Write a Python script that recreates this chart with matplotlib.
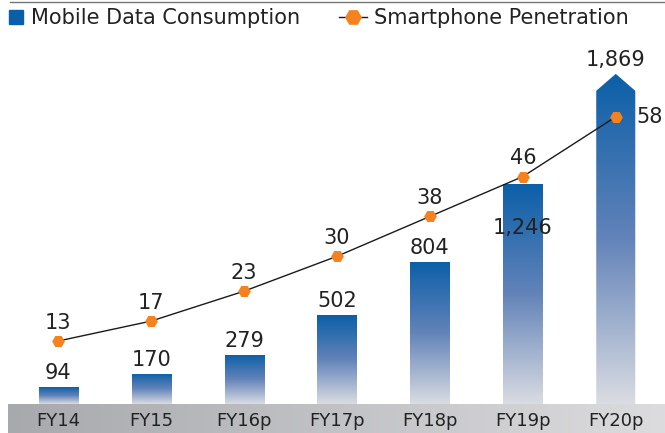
import numpy as np
import matplotlib
matplotlib.use("Agg")
import matplotlib.pyplot as plt
from matplotlib.colors import LinearSegmentedColormap
from matplotlib.patches import Polygon
from matplotlib.lines import Line2D

years = ["FY14", "FY15", "FY16p", "FY17p", "FY18p", "FY19p", "FY20p"]
data_use = [94, 170, 279, 502, 804, 1246, 1869]
penetration = [13, 17, 23, 30, 38, 46, 58]

BLUE = "#0b5fa8"
ORANGE = "#f5821f"
TXT = "#222222"
bar_cmap = LinearSegmentedColormap.from_list("bar", [BLUE, "#6283b9", "#dadce2"])
band_cmap = LinearSegmentedColormap.from_list("band", ["#a8a9ad", "#dcdcdf"])

W, H = 665, 433
fig = plt.figure(figsize=(W / 100, H / 100), dpi=100)

# grey band behind the x tick labels
band = fig.add_axes([8 / W, 0, 657 / W, 29 / H], zorder=0)
band.imshow(np.linspace(0, 1, 256)[None, :], cmap=band_cmap, aspect="auto")
band.axis("off")

ax = fig.add_axes([8 / W, 29 / H, 657 / W, 354 / H], zorder=1)
ax.patch.set_alpha(0)
x = np.arange(len(years))
bw = 0.42

grad = np.linspace(0, 1, 256)[:, None]
bars = ax.bar(x[:-1], data_use[:-1], width=bw, color="none", edgecolor="none")
for b in bars:
    l, h = b.get_x(), b.get_height()
    im = ax.imshow(grad, cmap=bar_cmap, aspect="auto",
                   extent=(l, l + bw, 0, h), zorder=2)
    im.set_clip_path(b)

# last bar drawn as an arrow
xi, v = x[-1], data_use[-1]
head = 96
arrow = Polygon([(xi - bw / 2, 0), (xi + bw / 2, 0), (xi + bw / 2, v - head),
                 (xi, v), (xi - bw / 2, v - head)], closed=True,
                facecolor="none", edgecolor="none")
ax.add_patch(arrow)
im = ax.imshow(grad, cmap=bar_cmap, aspect="auto",
               extent=(xi - bw / 2, xi + bw / 2, 0, v), zorder=2)
im.set_clip_path(arrow)

ax.set_xlim(-0.54, 6.53)
ax.set_ylim(0, 2004)

fs = 15
for i, val in enumerate(data_use):
    if i == 5:
        ax.text(x[i], val * 0.8, f"{val:,}", ha="center", va="center",
                fontsize=fs, color=TXT, zorder=5)
    else:
        ax.annotate(f"{val:,}", (x[i], val), xytext=(0, 3), textcoords="offset points",
                    ha="center", va="bottom", fontsize=fs, color=TXT, zorder=5)

ax2 = ax.twinx()
ax2.set_ylim(0.36, 71.4)
ax2.plot(x, penetration, color="#1a1a1a", lw=1, zorder=3,
         marker="H", markersize=8, markerfacecolor=ORANGE, markeredgecolor=ORANGE)
for i, val in enumerate(penetration):
    if i == len(penetration) - 1:
        ax2.annotate(str(val), (x[i], val), xytext=(15, 0), textcoords="offset points",
                     ha="left", va="center", fontsize=fs, color=TXT)
    else:
        ax2.annotate(str(val), (x[i], val), xytext=(0, 6), textcoords="offset points",
                     ha="center", va="bottom", fontsize=fs, color=TXT)

for a in (ax, ax2):
    for s in a.spines.values():
        s.set_visible(False)
    a.set_yticks([])
ax2.set_xticks([])
ax.set_xticks(x, years, fontsize=13, color=TXT)
ax.tick_params(axis="x", length=0, pad=6)

# top rule and legend
fig.add_artist(Line2D([10 / W, 1], [1 - 2 / H, 1 - 2 / H], color="#777777", lw=1))
h_bar = Line2D([], [], ls="none", marker="s", markersize=10, color=BLUE)
h_line = Line2D([], [], color="#1a1a1a", lw=1, marker="H", markersize=11,
                markerfacecolor=ORANGE, markeredgecolor=ORANGE)
leg1 = fig.legend([h_bar], ["Mobile Data Consumption"], loc="center left",
                  bbox_to_anchor=(5.6 / W, 1 - 18 / H), frameon=False,
                  fontsize=15, handlelength=1.0, handletextpad=0.22,
                  borderpad=0, borderaxespad=0)
for t in leg1.get_texts():
    t.set_color(TXT)
leg2 = fig.legend([h_line], ["Smartphone Penetration"], loc="center left",
                  bbox_to_anchor=(339 / W, 1 - 18 / H), frameon=False,
                  fontsize=15, handlelength=1.35, handletextpad=0.34,
                  borderpad=0, borderaxespad=0)
for t in leg2.get_texts():
    t.set_color(TXT)

fig.savefig("out.png", dpi=100)
